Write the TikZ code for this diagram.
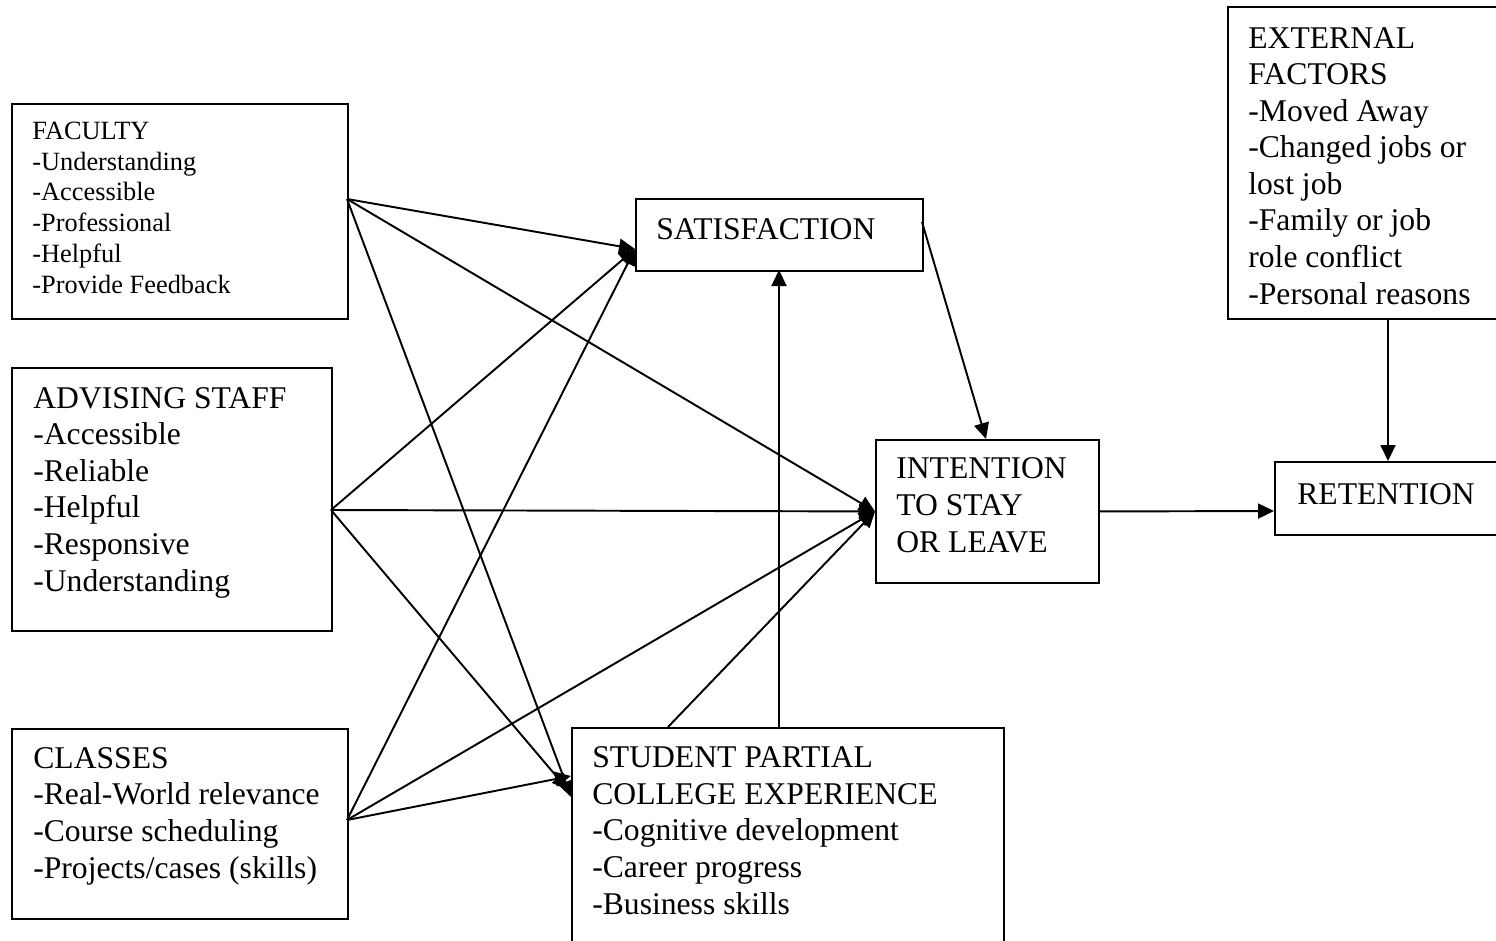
\documentclass[tikz,border=0pt]{standalone}
\usepackage{fontspec}
\setmainfont{Liberation Serif}
\usepackage{tikz}
\usetikzlibrary{positioning,arrows.meta}
\tikzset{
box/.style={draw, rectangle, line width=1.1pt, anchor=north west, inner sep=0pt},
bigtxt/.style={anchor=base west, align=left, inner sep=0pt, font=\fontsize{18}{20.8}\selectfont},
smalltxt/.style={anchor=base west, align=left, inner sep=0pt, font=\fontsize{15}{17.5}\selectfont},
conn/.style={line width=1.1pt, -{Triangle[length=0.32cm, width=0.3cm]}}
}

\begin{document}
\begin{tikzpicture}[x=0.02cm, y=-0.02cm]
\useasboundingbox (0,0) rectangle (1496,940);
\clip (0,0) rectangle (1496,940);

% boxes
\node[box, minimum width=6.72cm, minimum height=4.3cm] (fac) at (11,103) {};
\node[box, minimum width=6.4cm, minimum height=5.26cm] (adv) at (11,367) {};
\node[box, minimum width=6.72cm, minimum height=3.8cm] (cls) at (11,728) {};
\node[box, minimum width=5.74cm, minimum height=1.44cm] (sat) at (635,198) {};
\node[box, minimum width=4.46cm, minimum height=2.86cm] (int) at (875,439) {};
\node[box, minimum width=4.6cm, minimum height=1.46cm] (ret) at (1274,461) {};
\node[box, minimum width=5.54cm, minimum height=6.24cm] (ext) at (1227,6) {};
\node[box, minimum width=8.64cm, minimum height=4.4cm] (stu) at (571,727) {};

% texts (placed by the baseline of their last line)
\node[smalltxt] (facText) at (32,293) {FACULTY\\-Understanding\\-Accessible\\-Professional\\-Helpful\\-Provide Feedback};
\node[bigtxt] (advText) at (33,591) {ADVISING STAFF\\-Accessible\\-Reliable\\-Helpful\\-Responsive\\-Understanding};
\node[bigtxt] (clsText) at (33,878) {CLASSES\\-Real-World relevance\\-Course scheduling\\-Projects/cases (skills)};
\node[bigtxt] (satText) at (656,239) {SATISFACTION};
\node[bigtxt] (intText) at (896,552) {INTENTION\\TO STAY\\OR LEAVE};
\node[bigtxt] (retText) at (1297,504) {RETENTION};
\node[bigtxt] (extText) at (1248,304) {EXTERNAL\\FACTORS\\-Moved Away\\-Changed jobs or\\lost job\\-Family or job\\role conflict\\-Personal reasons};
\node[bigtxt] (stuText) at (592,914) {STUDENT PARTIAL\\COLLEGE EXPERIENCE\\-Cognitive development\\-Career progress\\-Business skills};

% ports
\coordinate (facOut) at (347,199);
\coordinate (advOut) at (331,510);
\coordinate (clsOut) at (347,820);
\coordinate (satIn) at (635,249);
\coordinate (stuInA) at (571,797);
\coordinate (stuInB) at (568,790);
\coordinate (stuInC) at (571,776);
\coordinate (stuOutA) at (668,727);
\coordinate (stuOutB) at (779,727);
\coordinate (satBot) at (779,270);
\coordinate (satOut) at (922,222);
\coordinate (intTop) at (986,439);
\coordinate (extOut) at (1388,318);
\coordinate (retTop) at (1388,461);
\coordinate (retIn) at (1274,511);

% connectors
\draw[conn] (facOut) -- (satIn);
\draw[conn] (facOut) -- (int.west);
\draw[conn] (facOut) -- (stuInA);
\draw[conn] (advOut) -- (satIn);
\draw[conn] (advOut) -- (int.west);
\draw[conn] (advOut) -- (stuInB);
\draw[conn] (clsOut) -- (satIn);
\draw[conn] (clsOut) -- (int.west);
\draw[conn] (clsOut) -- (stuInC);
\draw[conn] (stuOutA) -- (int.west);
\draw[conn] (stuOutB) -- (satBot);
\draw[conn] (satOut) -- (intTop);
\draw[conn] (int.east) -- (retIn);
\draw[conn] (extOut) -- (retTop);

\end{tikzpicture}
\end{document}
